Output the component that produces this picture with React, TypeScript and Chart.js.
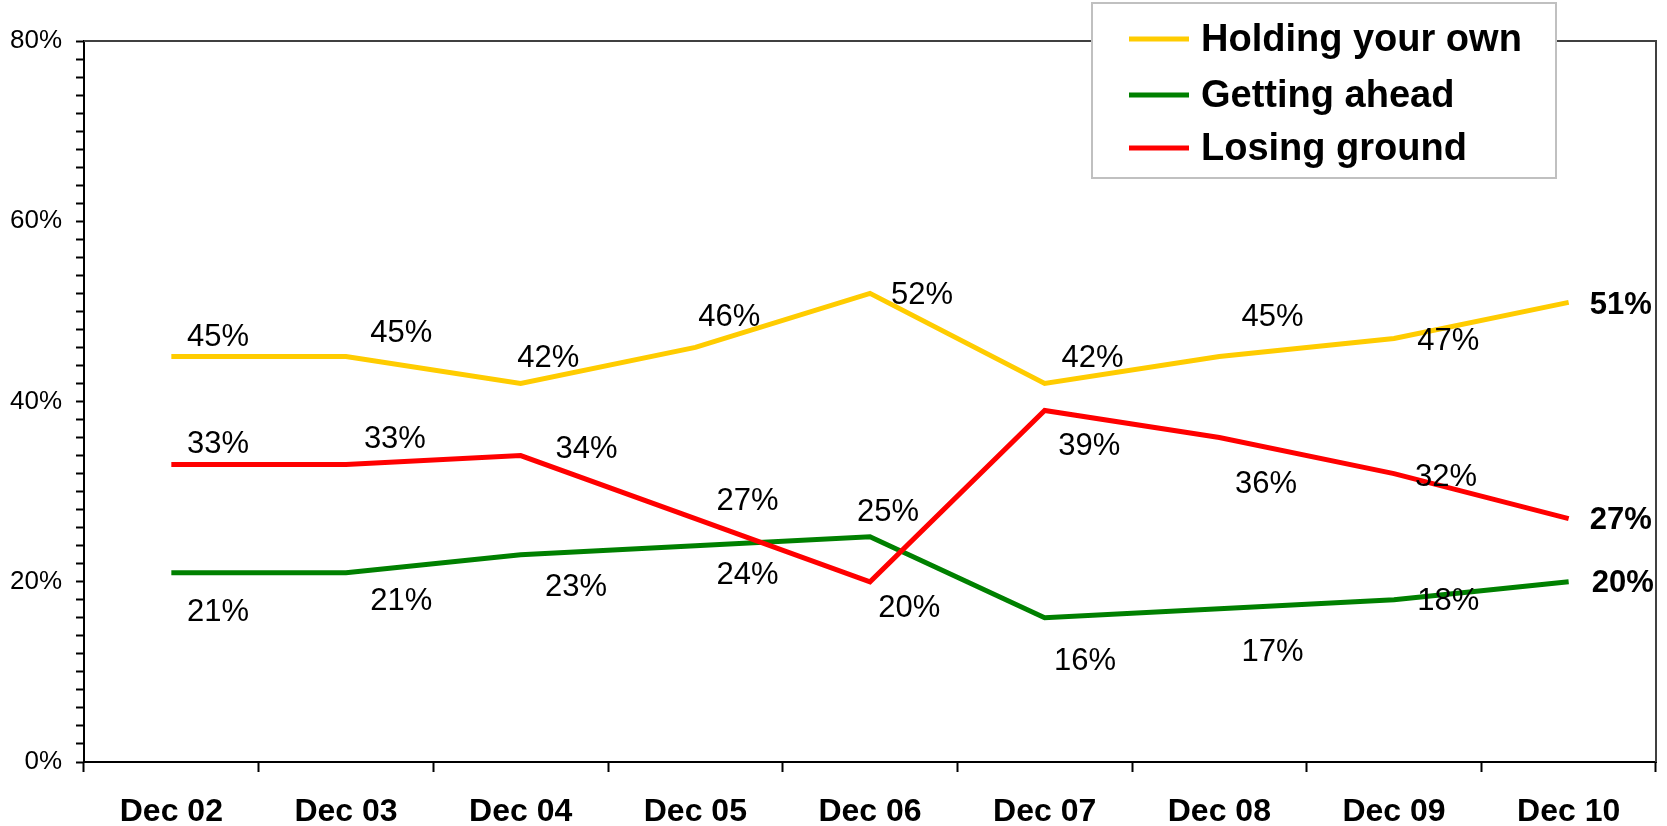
import React, { useEffect, useRef } from "react";
import { Chart, registerables } from "chart.js";

Chart.register(...registerables);

const categories = ["Dec 02", "Dec 03", "Dec 04", "Dec 05", "Dec 06", "Dec 07", "Dec 08", "Dec 09", "Dec 10"];
const holdingYourOwn = [45, 45, 42, 46, 52, 42, 45, 47, 51];
const gettingAhead = [21, 21, 23, 24, 25, 16, 17, 18, 20];
const losingGround = [33, 33, 34, 27, 20, 39, 36, 32, 27];
const seriesNames = ["Holding your own", "Getting ahead", "Losing ground"];
const seriesColors = ["#FFCC00", "#008000", "#FF0000"];
const yTicks = [0, 20, 40, 60, 80];

// label offsets relative to each point (in reference-shrunk px)
const holdingOffsets = [[44, -18], [52, -22], [26, -24], [32, -28], [49, 2], [45, -24], [50, -37], [51, 3], [49, 3]];
const aheadOffsets = [[44, 37], [52, 27], [52, 31], [49, 28], [17, -23], [38, 41], [50, 41], [51, 2], [51, 2]];
const losingOffsets = [[44, -19], [46, -24], [62, -6], [49, -16], [37, 25], [42, 34], [44, 44], [49, 4], [49, 2]];

const FONT = "'Liberation Sans', Arial, sans-serif";
const K = 1667 / 1568;

export default function App() {
  const ref = useRef<HTMLCanvasElement>(null);
  useEffect(() => {
    if (!ref.current) return;
    const offsets = [holdingOffsets, aheadOffsets, losingOffsets];
    const labelsPlugin = {
      id: "labelsPlugin",
      afterDatasetsDraw(chart: any) {
        const ctx = chart.ctx;
        ctx.save();
        ctx.textAlign = "center";
        ctx.textBaseline = "middle";
        ctx.fillStyle = "#000";
        chart.data.datasets.forEach((ds: any, di: number) => {
          const meta = chart.getDatasetMeta(di);
          meta.data.forEach((pt: any, i: number) => {
            const last = i === meta.data.length - 1;
            ctx.font = `${last ? "bold " : ""}31px ${FONT}`;
            const o = offsets[di][i];
            ctx.fillText(`${ds.data[i]}%`, pt.x + o[0] * K, pt.y + o[1] * K);
          });
        });
        ctx.restore();
      },
      afterDraw(chart: any) {
        const ctx = chart.ctx;
        const a = chart.chartArea;
        ctx.save();
        // top and right border
        ctx.strokeStyle = "#404040";
        ctx.lineWidth = 2;
        ctx.beginPath();
        ctx.moveTo(a.left, a.top);
        ctx.lineTo(a.right, a.top);
        ctx.lineTo(a.right, a.bottom);
        ctx.stroke();
        // legend
        const lx = 1092, ly = 3, lw = 464, lh = 175;
        ctx.fillStyle = "#fff";
        ctx.fillRect(lx, ly, lw, lh);
        ctx.strokeStyle = "#c0c0c0";
        ctx.lineWidth = 2;
        ctx.strokeRect(lx, ly, lw, lh);
        const rows = [39, 95, 148];
        ctx.font = `bold 38px ${FONT}`;
        ctx.textAlign = "left";
        ctx.textBaseline = "middle";
        seriesNames.forEach((n, i) => {
          ctx.strokeStyle = seriesColors[i];
          ctx.lineWidth = 5;
          ctx.beginPath();
          ctx.moveTo(1129, rows[i]);
          ctx.lineTo(1189, rows[i]);
          ctx.stroke();
          ctx.fillStyle = "#000";
          ctx.fillText(n, 1201, rows[i] + 2);
        });
        ctx.restore();
      },
    };
    const seriesData = [holdingYourOwn, gettingAhead, losingGround];
    const drawOrder = [3, 2, 1];
    const chart = new Chart(ref.current, {
      type: "line",
      data: {
        labels: categories,
        datasets: seriesNames.map((n, i) => ({
          label: n,
          data: seriesData[i],
          borderColor: seriesColors[i],
          backgroundColor: seriesColors[i],
          borderWidth: 5,
          borderJoinStyle: "miter",
          pointRadius: 0,
          tension: 0,
          order: drawOrder[i],
        })),
      },
      options: {
        animation: false,
        responsive: true,
        maintainAspectRatio: false,
        layout: { padding: { left: 0, top: 41, right: 11, bottom: 0 } },
        plugins: { legend: { display: false }, tooltip: { enabled: false } },
        scales: {
          x: {
            type: "category",
            offset: true,
            grid: { display: true, drawOnChartArea: false, drawTicks: true, tickLength: 10, tickWidth: 2, tickColor: "#000", offset: true },
            border: { display: true, color: "#000", width: 2 },
            ticks: { color: "#000", font: { family: FONT, size: 32, weight: "bold" }, padding: 21, maxRotation: 0, autoSkip: false },
            afterFit(s: any) { s.height = 64; },
          },
          y: {
            min: 0,
            max: 80,
            grid: { display: true, drawOnChartArea: false, drawTicks: true, tickLength: 8, tickWidth: 2, tickColor: "#000" },
            border: { display: true, color: "#000", width: 2 },
            ticks: {
              stepSize: 2,
              autoSkip: false,
              color: "#000",
              padding: 14,
              font: { family: FONT, size: 26 },
              callback: (v: any) => (yTicks.includes(Number(v)) ? `${v}%` : ""),
            },
            afterFit(s: any) { s.width = 84; },
          },
        },
      },
      plugins: [labelsPlugin],
    } as any);
    return () => chart.destroy();
  }, []);
  return (
    <div style={{ position: "absolute", left: 0, top: 0, width: 1667, height: 826, background: "#fff" }}>
      <canvas ref={ref} />
    </div>
  );
}
